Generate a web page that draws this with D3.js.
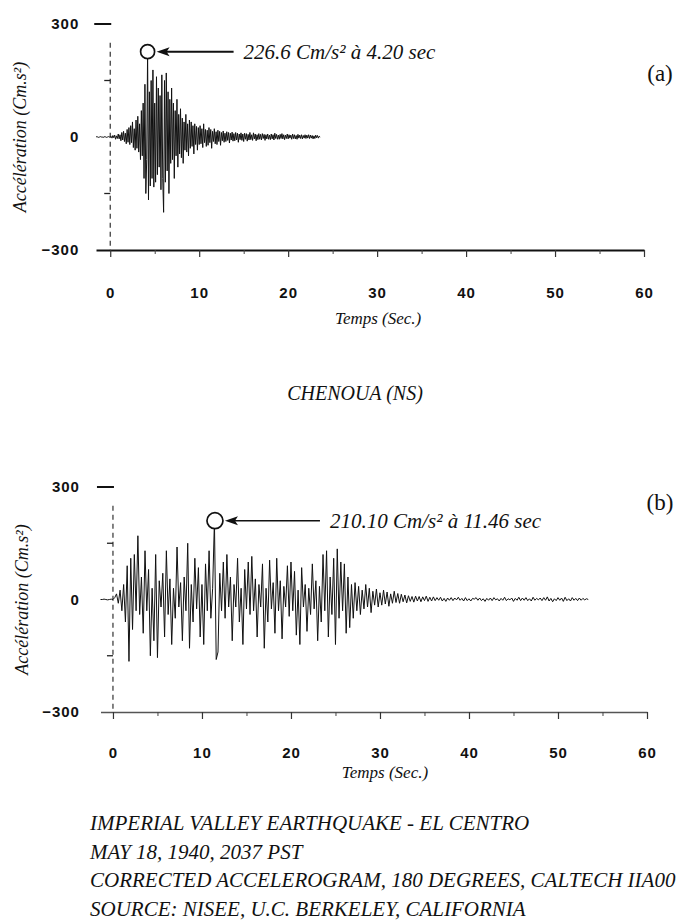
<!DOCTYPE html>
<html><head><meta charset="utf-8">
<script src="https://cdn.jsdelivr.net/npm/d3@7"></script>
<style>body{margin:0;background:#fff}svg{display:block}</style>
</head><body>
<svg id="c" width="683" height="923"></svg>
<script>
// ---------- DATA ----------
// Chenoua (NS) accelerogram, cm/s², sampled every 0.1 s starting at -1.6 s
const chenouaStart = -1.6, chenouaStep = 0.1;
const chenouaAccel = [
 0,1,0,-1,0,1,0,0,-1,0,1,0,-1,0,1,0,0,
 2,-3,4,-2,5,-6,3,-4,8,-5,
 6,-10,12,-8,15,-12,10,-18,20,-14,
 25,-20,30,-15,40,-28,22,-35,45,-30,
 55,-40,35,-60,70,-50,90,-110,140,-150,
 -60,226.6,-167,120,-130,150,-110,178,-133,90,
 -120,160,-100,130,-80,110,-140,165,-110,-200,
 150,-120,170,-90,120,-150,100,-70,130,-60,
 90,-110,70,-50,100,-80,60,-45,75,-55,
 50,-70,40,-35,60,-40,35,-50,45,-30,
 40,-25,30,-45,35,-20,28,-35,25,-20,
 30,-18,22,-28,35,-15,20,-25,18,-22,
 25,-15,20,-30,15,-12,22,-18,14,-20,
 18,-12,15,-22,12,-10,16,-14,10,-12,
 14,-9,12,-16,10,-8,13,-11,9,-10,
 12,-8,10,-14,8,-7,11,-9,8,-12,
 10,-6,9,-11,7,-8,12,-7,6,-9,
 11,-5,8,-10,6,-7,9,-6,7,-8,
 9,-4,7,-9,6,-5,8,-6,5,-7,
 8,-5,6,-8,10,-4,7,-6,5,-6,
 7,-4,9,-5,6,-7,5,-4,8,-5,
 6,-3,5,-6,8,-4,6,-5,4,-6,
 7,-3,5,-4,6,-5,4,-3,6,-4,
 5,-3,6,-4,5,-3,4,-5,3,-4,
 5,-2,4,-3,2,0
];
// Imperial Valley - El Centro accelerogram, cm/s², sampled every 0.2 s starting at -1.4 s
const elcentroStart = -1.4, elcentroStep = 0.2;
const elcentroAccel = [
 0,0,1,0,-1,0,1,0,
 5,15,-10,25,-30,40,-60,90,-165,110,
 -80,120,-30,170,-40,60,-90,130,-30,80,
 -150,30,-110,120,-155,50,-20,70,-100,130,
 -40,55,-120,30,-50,140,-20,45,-110,60,
 -30,150,-130,40,-60,110,-25,85,-100,40,
 -120,95,-30,130,-50,30,210.1,-160,-140,70,
 -30,100,-50,120,-20,60,-110,40,-20,110,
 -60,30,-120,80,-25,100,-40,115,-30,55,
 -100,40,-20,95,-130,30,-60,105,-25,45,
 -90,110,-30,50,-105,35,-20,90,-45,100,
 -30,75,-95,25,-120,85,-20,40,-85,30,
 -40,95,-25,50,-110,35,-60,120,-30,130,
 -100,60,-40,110,-120,135,-50,100,-30,95,
 -90,60,-75,40,-50,45,-30,35,-40,25,
 -25,40,-20,30,-35,22,-15,28,-20,18,
 -15,25,-12,20,-18,15,-10,22,-8,16,
 -10,14,-6,12,-9,10,-5,8,-7,9,
 -4,8,-6,7,-3,9,-5,6,-4,7,
 -3,5,-2,6,-4,3,-5,4,-2,5,
 -3,4,-1,6,-2,3,-4,5,-3,2,
 -4,3,1,5,-2,4,-3,2,-5,3,
 -2,4,-3,5,-1,2,-4,3,-2,6,
 -3,2,-1,4,-5,3,-2,6,-3,4,
 -2,5,-3,2,-4,6,-2,3,-1,4,
 -3,5,-2,7,-4,3,-6,2,-3,5,
 -2,4,-5,6,-3,2,-4,5,-2,3,
 -3,4,-2,3,-1,2,0
];
const xTickValues = [0,10,20,30,40,50,60];
const xMinorTicks = [5,15,25,35,45,55];
const yTickValues = [300,0,-300];
const yMinorTicks = [150,-150];
const peakTimes = [4.20, 11.46];
const peakValues = [226.6, 210.10];
const peakLabels = ["226.6 Cm/s² à 4.20 sec", "210.10 Cm/s² à 11.46 sec"];
const panelLetters = ["(a)", "(b)"];
const yTitle = "Accélération (Cm.s²)";
const xTitle = "Temps (Sec.)";
const stationTitle = "CHENOUA (NS)";
const footerLines = [
 "IMPERIAL VALLEY EARTHQUAKE - EL CENTRO",
 "MAY 18, 1940, 2037 PST",
 "CORRECTED ACCELEROGRAM, 180 DEGREES, CALTECH IIA00",
 "SOURCE: NISEE, U.C. BERKELEY, CALIFORNIA"
];

// ---------- LAYOUT ----------
const SERIF = "'Liberation Serif','Times New Roman',serif";
const SANS = "'Liberation Sans',Arial,sans-serif";
const panels = [
 {start: chenouaStart, step: chenouaStep, values: chenouaAccel, xDomain:[-1.6,60], xr:[96,644], yr:[250,24],
  axisColor:'#111', axisW:2, yPad:31, xPad:30, xTitleDx:1, xTitleY:324, yTitleX:26,
  letterX:660, letterY:81, r:7, arrowEnd:86, textOff:96, arrowW:2},
 {start: elcentroStart, step: elcentroStep, values: elcentroAccel, xDomain:[-1.4,60], xr:[100.5,647], yr:[712,487],
  axisColor:'#555', axisW:1.5, yPad:33, xPad:28, xTitleDx:5, xTitleY:778, yTitleX:28,
  letterX:660, letterY:510, r:8, arrowEnd:105, textOff:115, arrowW:1.6}
];

const svg = d3.select('#c');
svg.append('rect').attr('width',683).attr('height',923).attr('fill','#fff');

panels.forEach((p, i) => {
  const x = d3.scaleLinear().domain(p.xDomain).range(p.xr);
  const y = d3.scaleLinear().domain([-300,300]).range(p.yr);
  const g = svg.append('g');
  const pts = p.values.map((v,k) => [p.start + k*p.step, v]);

  // dashed vertical y axis line
  g.append('line').attr('x1',x(0)).attr('x2',x(0)).attr('y1',y(250)).attr('y2',y(-300))
    .attr('stroke','#333').attr('stroke-width',1.2).attr('stroke-dasharray','5,4');
  // y labels via axis
  const ya = g.append('g').attr('transform',`translate(${x(0)},0)`)
    .call(d3.axisLeft(y).tickValues(yTickValues).tickSize(0).tickPadding(p.yPad).tickFormat(d3.format('d')));
  ya.select('.domain').remove();
  ya.selectAll('text').attr('font-family',SANS).attr('font-size',15).attr('font-weight','bold')
    .attr('letter-spacing',1).attr('fill','#111');
  // 300 dash and minor ticks
  g.append('line').attr('x1',x(0)-16).attr('x2',x(0)+1).attr('y1',y(300)).attr('y2',y(300))
    .attr('stroke','#111').attr('stroke-width',2);
  g.selectAll('.ymin').data(yMinorTicks).join('line')
    .attr('x1',x(0)-6).attr('x2',x(0)).attr('y1',d=>y(d)).attr('y2',d=>y(d))
    .attr('stroke','#222').attr('stroke-width',1.3);

  // x axis
  const xa = g.append('g').attr('transform',`translate(0,${y(-300)})`)
    .call(d3.axisBottom(x).tickValues(xTickValues).tickSize(7).tickPadding(p.xPad).tickSizeOuter(0));
  xa.select('.domain').attr('stroke',p.axisColor).attr('stroke-width',p.axisW);
  xa.selectAll('line').attr('stroke','#333').attr('stroke-width',1.2);
  xa.selectAll('text').attr('font-family',SANS).attr('font-size',15).attr('font-weight','bold')
    .attr('letter-spacing',1).attr('fill','#111');
  const xm = g.append('g').attr('transform',`translate(0,${y(-300)})`)
    .call(d3.axisBottom(x).tickValues(xMinorTicks).tickSize(4).tickFormat(''));
  xm.select('.domain').remove();
  xm.selectAll('line').attr('stroke','#444').attr('stroke-width',1);

  // trace
  g.append('path').datum(pts)
    .attr('d', d3.line().x(d=>x(d[0])).y(d=>y(d[1])))
    .attr('fill','none').attr('stroke','#111').attr('stroke-width',1).attr('stroke-linejoin','round');

  // peak annotation
  const cx = x(peakTimes[i]), cy = y(peakValues[i]);
  g.append('circle').attr('cx',cx).attr('cy',cy).attr('r',p.r)
    .attr('fill','#fff').attr('stroke','#111').attr('stroke-width',1.7);
  const tip = cx + p.r + 2;
  g.append('line').attr('x1',tip+8).attr('x2',cx+p.arrowEnd).attr('y1',cy).attr('y2',cy)
    .attr('stroke','#111').attr('stroke-width',p.arrowW);
  g.append('path').attr('d',`M${tip},${cy} L${tip+13},${cy-4.5} L${tip+10},${cy} L${tip+13},${cy+4.5} Z`)
    .attr('fill','#111');
  g.append('text').attr('x',cx+p.textOff).attr('y',cy+7).text(peakLabels[i])
    .attr('font-family',SERIF).attr('font-style','italic').attr('font-size',21).attr('fill','#111');

  // panel letter
  g.append('text').attr('x',p.letterX).attr('y',p.letterY).attr('text-anchor','middle').text(panelLetters[i])
    .attr('font-family',SERIF).attr('font-size',23).attr('fill','#111');

  // axis titles
  g.append('text').attr('x',x(30)+p.xTitleDx).attr('y',p.xTitleY).attr('text-anchor','middle').text(xTitle)
    .attr('font-family',SERIF).attr('font-style','italic').attr('font-size',17).attr('fill','#111');
  g.append('text').attr('transform',`translate(${p.yTitleX},${y(0)}) rotate(-90)`).attr('text-anchor','middle')
    .text(yTitle).attr('font-family',SERIF).attr('font-style','italic').attr('font-size',18).attr('fill','#111');
});

// station title under panel (a)
svg.append('text').attr('x',355).attr('y',400).attr('text-anchor','middle').text(stationTitle)
  .attr('font-family',SERIF).attr('font-style','italic').attr('font-size',20).attr('fill','#111');

// footer
svg.append('g').selectAll('text').data(footerLines).join('text')
  .attr('x',90).attr('y',(d,i)=>830 + i*28.7).text(d=>d)
  .attr('font-family',SERIF).attr('font-style','italic').attr('font-size',21).attr('fill','#111');
</script>
</body></html>
